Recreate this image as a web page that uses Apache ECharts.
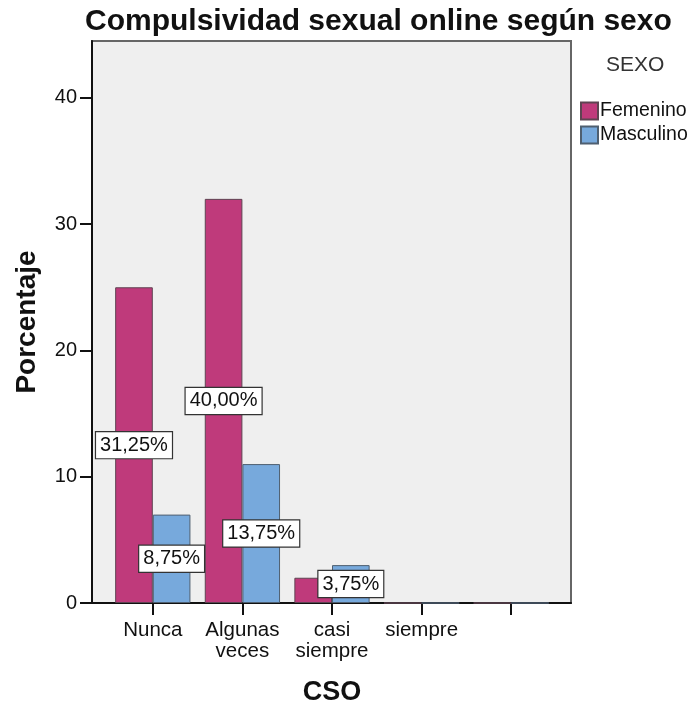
<!DOCTYPE html>
<html>
<head>
<meta charset="utf-8">
<script src="https://cdn.jsdelivr.net/npm/echarts@6/dist/echarts.min.js"></script>
<style>
html,body{margin:0;padding:0;background:#fff;}
#chart{width:692px;height:706px;}
</style>
</head>
<body>
<div id="chart"></div>
<script>
const categories = ['Nunca', 'Algunas\nveces', 'casi\nsiempre', 'siempre', ''];
const femenino = [25, 32, 2, 0, 0];
const masculino = [7, 11, 3, 0, 0];
const femeninoLabels = ['31,25%', '40,00%', '', '', ''];
const masculinoLabels = ['8,75%', '13,75%', '3,75%', '', ''];
const yTicks = [0, 10, 20, 30, 40];
const yMax = 44.5;

const FONT = '"Liberation Sans", Arial, sans-serif';

function makeData(values, labels) {
  return values.map((v, i) => ({ value: v, label: { show: labels[i] !== '' } }));
}

const labelStyle = {
  position: 'inside',
  fontFamily: FONT,
  fontSize: 20,
  color: '#111',
  backgroundColor: '#fff',
  borderColor: '#333',
  borderWidth: 1.2,
  padding: [4, 4, 2, 4]
};

const chart = echarts.init(document.getElementById('chart'));
chart.setOption({
  animation: false,
  backgroundColor: '#fff',
  textStyle: { fontFamily: FONT },
  title: [
    {
      text: 'Compulsividad sexual online según sexo',
      left: 80, top: 2,
      textStyle: { fontFamily: FONT, fontSize: 30, fontWeight: 'bold', color: '#111' }
    },
    {
      text: 'SEXO',
      left: 601, top: 50,
      textStyle: { fontFamily: FONT, fontSize: 21, fontWeight: 'normal', color: '#333' }
    }
  ],
  legend: {
    orient: 'vertical',
    left: 575, top: 96,
    itemWidth: 17, itemHeight: 17, itemGap: 4,
    icon: 'rect',
    textStyle: { fontFamily: FONT, fontSize: 19.5, color: '#111', padding: [0, 0, 0, -3] },
    data: ['Femenino', 'Masculino']
  },
  grid: [
    { left: 92, top: 41, width: 479, height: 562, show: true, outerBoundsMode: 'none', containLabel: false,
      backgroundColor: '#efefef', borderColor: '#666', borderWidth: 2 },
    { left: 108, top: 41, width: 448, height: 562, outerBoundsMode: 'none', containLabel: false }
  ],
  xAxis: [
    { type: 'category', gridIndex: 0, data: categories,
      axisLine: { show: true, lineStyle: { color: '#111', width: 2 } },
      axisTick: { show: false }, axisLabel: { show: false }, splitLine: { show: false } },
    { type: 'category', gridIndex: 1, data: categories,
      axisLine: { show: false },
      axisTick: { show: true, inside: false, alignWithLabel: true, length: 12, lineStyle: { color: '#111', width: 2 } },
      axisLabel: { fontFamily: FONT, fontSize: 20.5, color: '#111', margin: 17, lineHeight: 21, interval: 0 },
      name: 'CSO', nameLocation: 'middle', nameGap: 76,
      nameTextStyle: { fontFamily: FONT, fontSize: 27, fontWeight: 'bold', color: '#111' } }
  ],
  yAxis: [
    { type: 'value', gridIndex: 0, min: 0, max: yMax, interval: 10,
      axisLine: { show: true, lineStyle: { color: '#111', width: 2 } },
      axisTick: { show: true, inside: false, length: 12, customValues: yTicks, lineStyle: { color: '#111', width: 2 } },
      axisLabel: { fontFamily: FONT, fontSize: 20, color: '#111', margin: 15, customValues: yTicks },
      splitLine: { show: false },
      name: 'Porcentaje', nameLocation: 'middle', nameGap: 51,
      nameTextStyle: { fontFamily: FONT, fontSize: 28, fontWeight: 'bold', color: '#111' } },
    { type: 'value', gridIndex: 1, min: 0, max: yMax, show: false, splitLine: { show: false } }
  ],
  series: [
    { name: 'Femenino', type: 'bar', xAxisIndex: 1, yAxisIndex: 1,
      data: makeData(femenino, femeninoLabels),
      barGap: '0%', barCategoryGap: '16%',
      itemStyle: { color: '#bf3a7b', borderColor: '#5e4452', borderWidth: 1 },
      label: Object.assign({ formatter: p => femeninoLabels[p.dataIndex] }, labelStyle) },
    { name: 'Masculino', type: 'bar', xAxisIndex: 1, yAxisIndex: 1,
      data: makeData(masculino, masculinoLabels),
      barGap: '0%', barCategoryGap: '16%',
      itemStyle: { color: '#77a9dc', borderColor: '#4f5f70', borderWidth: 1 },
      label: Object.assign({ formatter: p => masculinoLabels[p.dataIndex] }, labelStyle) }
  ]
});
</script>
</body>
</html>
